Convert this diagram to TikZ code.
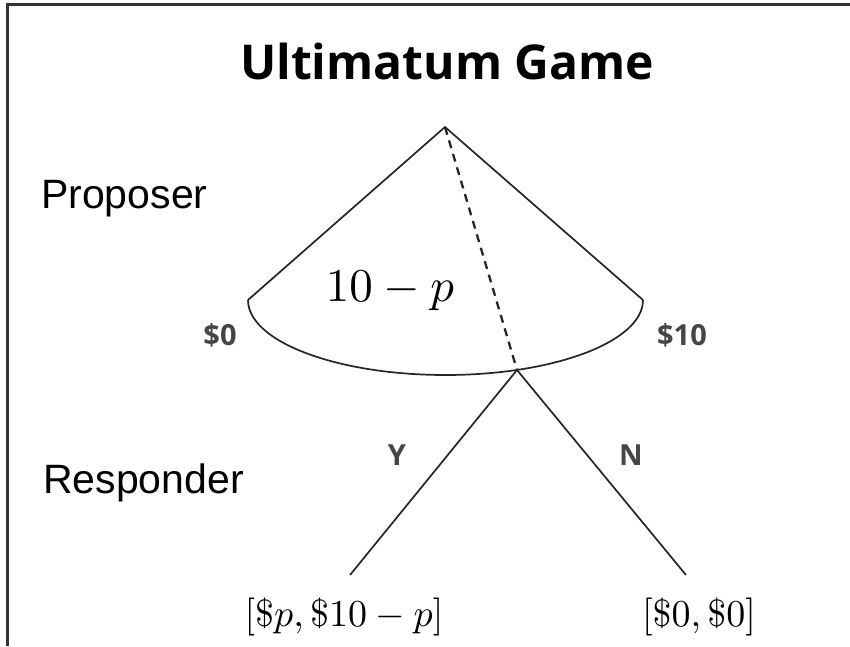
\documentclass[tikz,border=0pt]{standalone}
\usepackage{graphicx}
\usepackage{fontspec}
\setmainfont{Liberation Sans}
\newfontfamily\titlefont{Open Sans}
\newfontfamily\armfont{Liberation Sans}
\definecolor{lbl}{rgb}{0.27,0.27,0.27}
\tikzset{
  edge/.style={line width=1.7pt, draw=black!85},
  dashedge/.style={line width=2.3pt, draw=black!85, dash pattern=on 8pt off 6pt},
  role/.style={inner sep=0pt, anchor=base west, font=\armfont\fontsize{41}{41}\selectfont},
  choice/.style={inner sep=0pt, anchor=base, text=lbl, font=\titlefont\bfseries\fontsize{29}{29}\selectfont},
  payoff/.style={inner sep=0pt, anchor=base},
}
\begin{document}
\begin{tikzpicture}[x=1pt,y=-1pt]
\useasboundingbox (0,0) rectangle (850,646);
\fill[white] (0,0) rectangle (850,646);
% frame
\draw[line width=3pt, draw=black!80] (7,646) -- (7,4.5) -- (850,4.5);
% title
\node[inner sep=0pt, anchor=base, font=\titlefont\bfseries\fontsize{48}{48}\selectfont] (title) at (447,79) {Ultimatum Game};
% tree points
\coordinate (apex) at (445,127);
\coordinate (L) at (248,300);
\coordinate (R) at (643,300);
\coordinate (m) at (517,370);
\coordinate (yend) at (350,575);
\coordinate (nend) at (686,575);
\draw[edge] (L) -- (apex) -- (R);
\draw[edge] (L) arc[start angle=180, end angle=0, x radius=197.5, y radius=75];
\draw[dashedge] (apex) -- (m);
\draw[edge] (yend) -- (m) -- (nend);
% labels
\node[role] (proposer) at (41,208) {Proposer};
\node[role] (responder) at (43,493) {Responder};
\node[choice] (s0) at (220,345) {\$0};
\node[choice] (s10) at (682,345) {\$10};
\node[choice] (y) at (397,465) {Y};
\node[choice] (n) at (631,465) {N};
\node[inner sep=0pt, anchor=base] (frac) at (390,301) {\scalebox{4.7}{$10-p$}};
\node[payoff] (pay1) at (344,626) {\scalebox{3.8}{$[\$p,\$10-p]$}};
\node[payoff] (pay2) at (699,626) {\scalebox{3.8}{$[\$0,\$0]$}};
\end{tikzpicture}
\end{document}
